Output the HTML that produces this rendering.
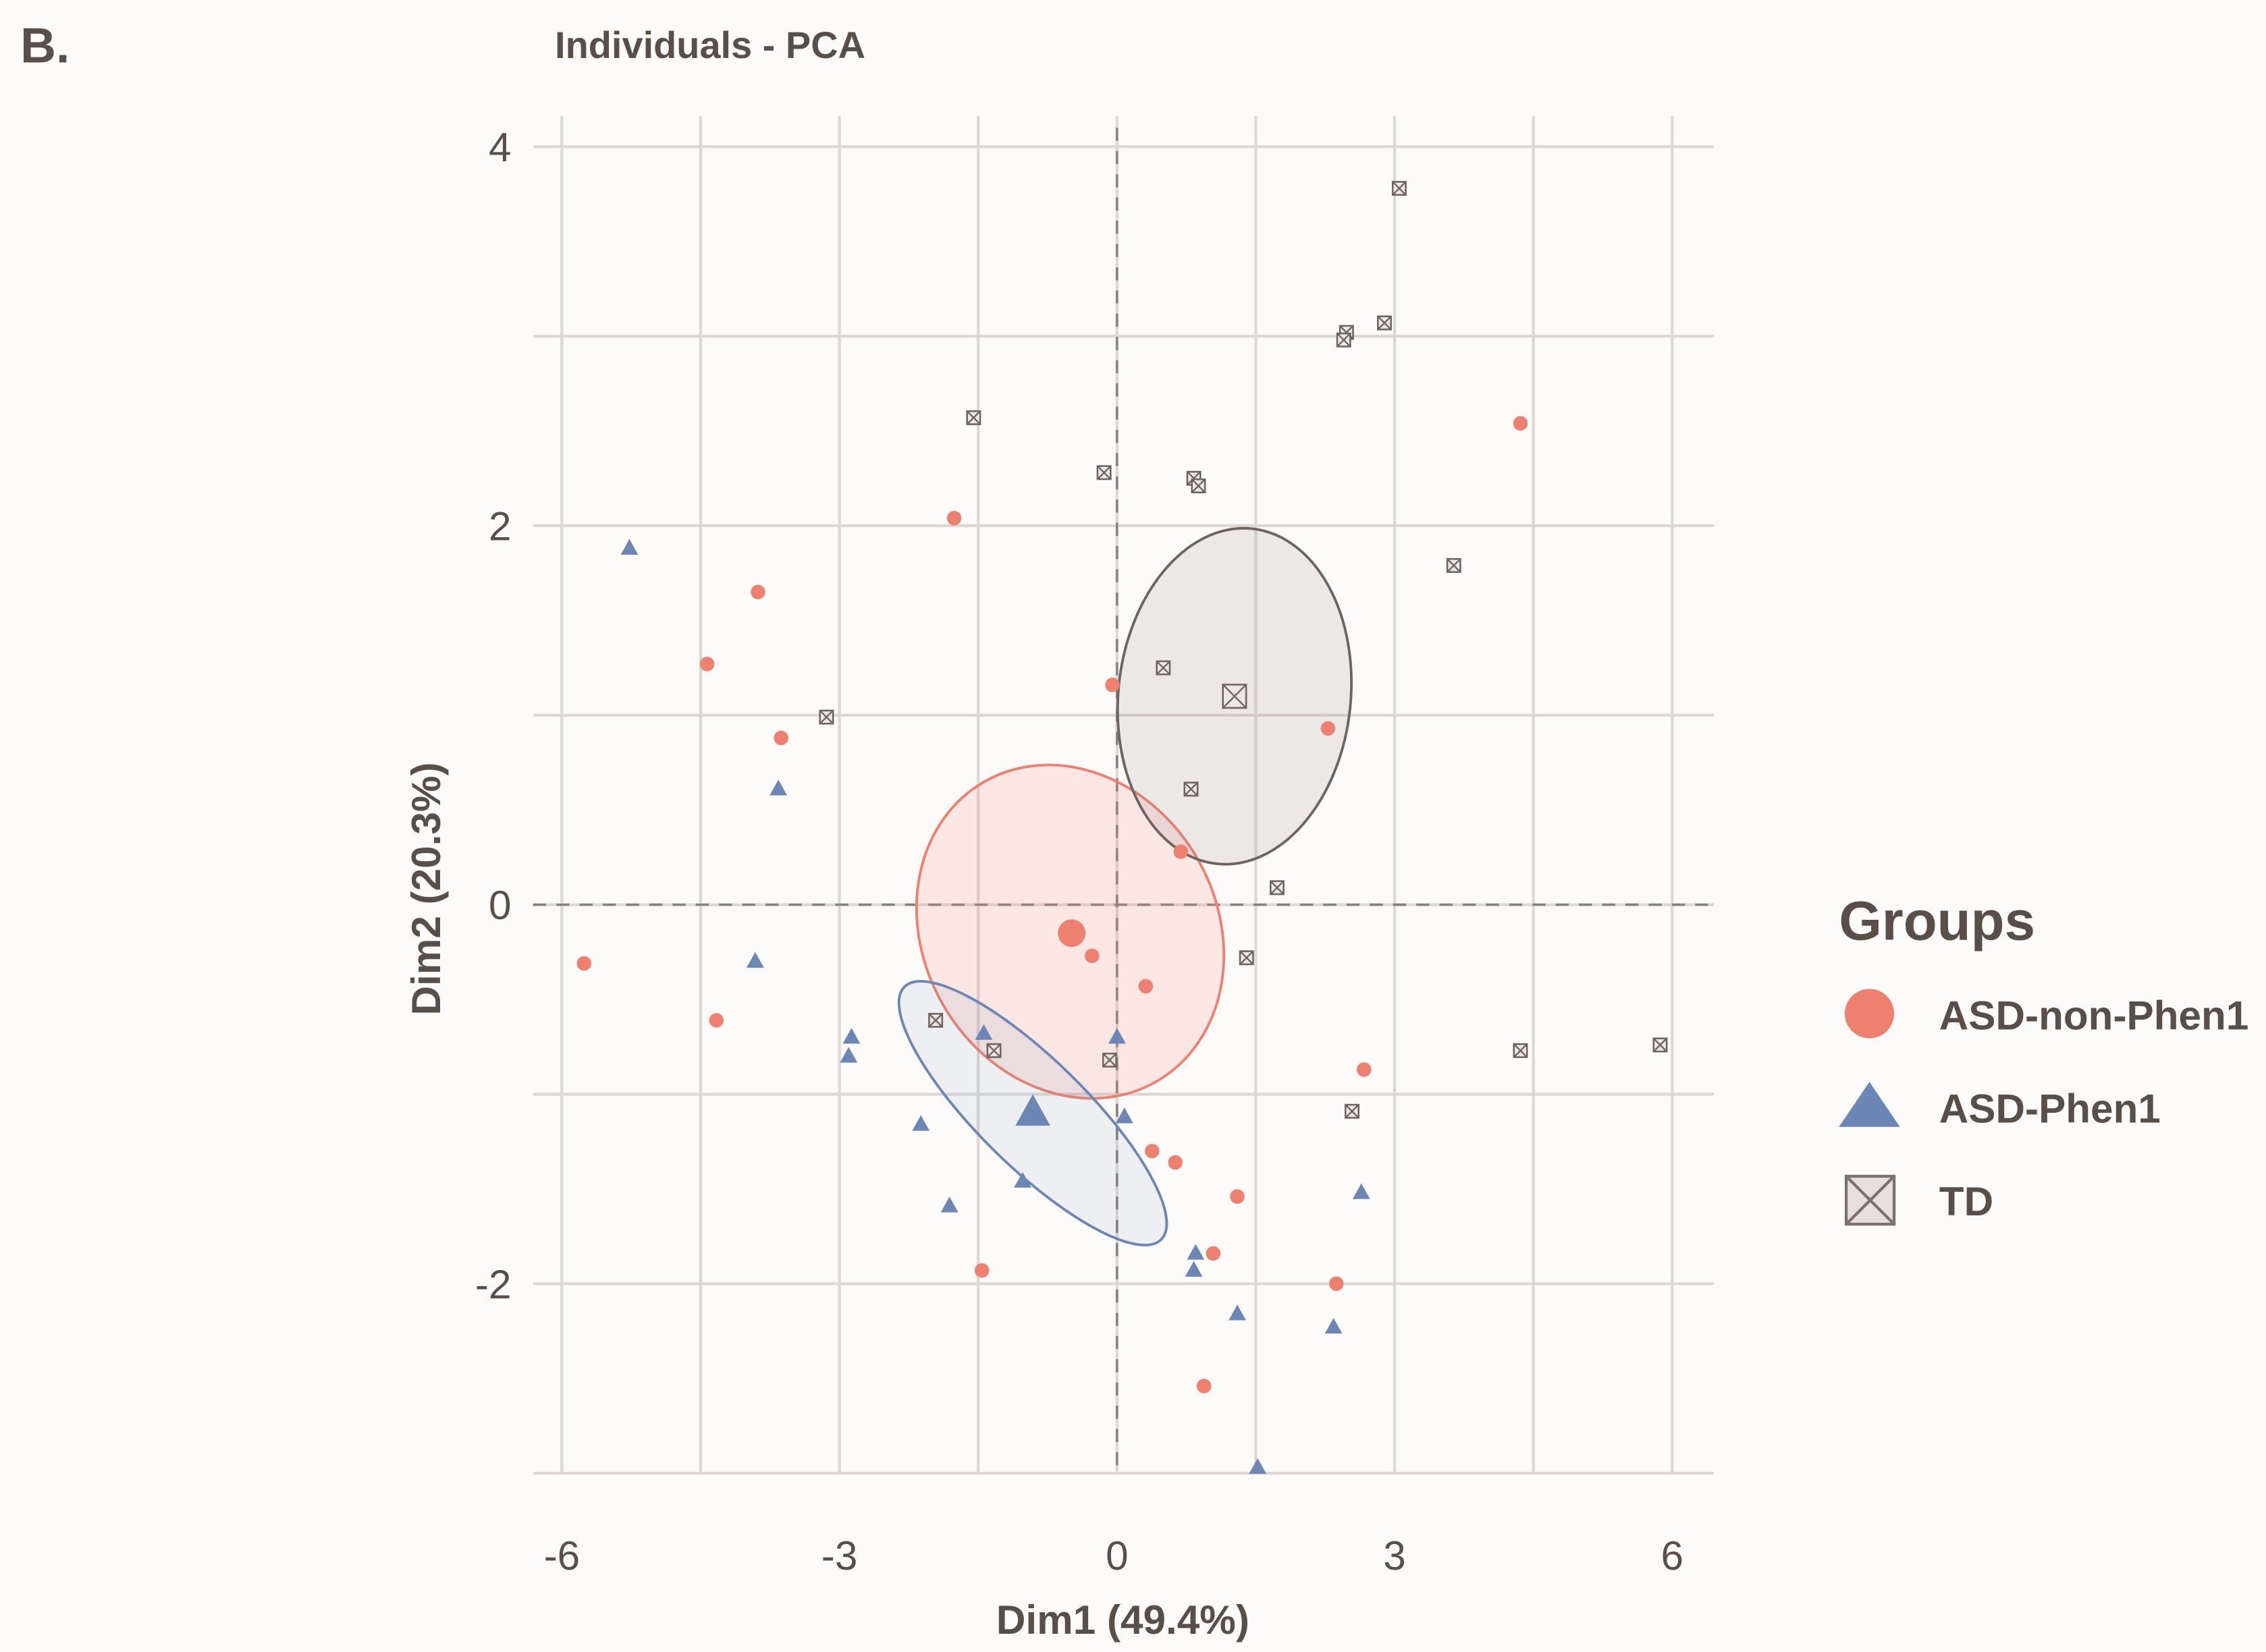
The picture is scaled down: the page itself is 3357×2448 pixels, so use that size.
<!DOCTYPE html>
<html><head><meta charset="utf-8"><style>
html,body{margin:0;padding:0;background:#fdfbfa;}
svg{display:block;font-family:"Liberation Sans",sans-serif;}
</style></head><body>
<svg id="chart" width="3357" height="2448" viewBox="0 0 1560 1137.6" xmlns="http://www.w3.org/2000/svg">
<rect x="0" y="0" width="1560" height="1138" fill="#fdfbfa"/>
<text x="14" y="43" font-size="34" font-weight="bold" fill="#5a4e48">B.</text>
<text x="382" y="40" font-size="26" font-weight="bold" fill="#5a4e48">Individuals - PCA</text>
<g id="grid"></g>
<g id="ellipses"></g>
<g id="points"></g>
<text x="773" y="1125" font-size="28" font-weight="bold" fill="#5a4e48" text-anchor="middle">Dim1 (49.4%)</text>
<text x="0" y="0" transform="translate(303,612) rotate(-90)" font-size="28" font-weight="bold" fill="#5a4e48" text-anchor="middle">Dim2 (20.3%)</text>
<g>
<text x="1266" y="647" font-size="38" font-weight="bold" fill="#5a4e48">Groups</text>
<g>
<circle cx="1287" cy="698" r="17" fill="#ee8070"/>
<text x="1335" y="709" font-size="28" font-weight="bold" fill="#5a4e48">ASD-non-Phen1</text></g>
<g>
<polygon points="1287,745 1308,776 1266,776" fill="#6c87b5"/>
<text x="1335" y="773" font-size="28" font-weight="bold" fill="#5a4e48">ASD-Phen1</text></g>
<g>
<rect x="1271" y="810" width="33" height="33" fill="#e6dfdb" stroke="#7d716c" stroke-width="2"/>
<path d="M1271,810 L1304,843 M1304,810 L1271,843" stroke="#7d716c" stroke-width="2"/>
<text x="1335" y="837" font-size="28" font-weight="bold" fill="#5a4e48">TD</text></g>
</g>
</svg>
<script>
const xTicks=[-6,-3,0,3,6];
const yTicks=[4,2,0,-2];
const redX=[-5.76,-3.88,-4.43,-3.63,-4.33,-1.76,-0.05,2.28,0.69,-0.27,0.31,4.36,2.67,0.38,0.63,1.30,1.04,2.37,-1.46,0.94];
const redY=[-0.31,1.65,1.27,0.88,-0.61,2.04,1.16,0.93,0.28,-0.27,-0.43,2.54,-0.87,-1.30,-1.36,-1.54,-1.84,-2.0,-1.93,-2.54];
const blueX=[-5.27,-3.66,-3.91,-2.87,-2.90,-2.12,-1.81,-1.44,-1.02,0,0.08,0.85,0.83,1.30,2.34,2.64,1.52];
const blueY=[1.88,0.61,-0.30,-0.70,-0.80,-1.16,-1.59,-0.68,-1.46,-0.70,-1.12,-1.84,-1.93,-2.16,-2.23,-1.52,-2.97];
const tdX=[3.05,2.48,2.45,2.89,-1.55,-0.14,0.83,0.88,3.64,0.50,-3.14,0.80,1.73,1.40,-1.96,-1.33,-0.08,2.54,4.36,5.87];
const tdY=[3.78,3.02,2.98,3.07,2.57,2.28,2.25,2.21,1.79,1.25,0.99,0.61,0.09,-0.28,-0.61,-0.77,-0.82,-1.09,-0.77,-0.74];
const centX=[-0.49,-0.91,1.27];
const centY=[-0.15,-1.10,1.10];
const NS="http://www.w3.org/2000/svg";
const sx=v=>769+v*63.7;
const sy=v=>623-v*130.5;
function mk(tag,attrs,parent){const e=document.createElementNS(NS,tag);for(const k in attrs)e.setAttribute(k,attrs[k]);parent.appendChild(e);return e;}
const grid=document.getElementById('grid');
const gc="#ddd8d5";
for(let v=-6;v<=6;v+=1.5){const l=mk('line',{x1:sx(v),x2:sx(v),y1:80,y2:1015,stroke:gc,'stroke-width':2},grid);

}
for(let v=-3;v<=4;v+=1){const l=mk('line',{x1:367,x2:1180,y1:sy(v),y2:sy(v),stroke:gc,'stroke-width':2},grid);

}
let z=mk('line',{x1:sx(0),x2:sx(0),y1:88,y2:1015,stroke:"#8a807b",'stroke-width':1.6,'stroke-dasharray':'9 7'},grid);


z=mk('line',{x1:367,x2:1180,y1:sy(0),y2:sy(0),stroke:"#8a807b",'stroke-width':1.6,'stroke-dasharray':'9 7'},grid);


xTicks.forEach(v=>{const t=mk('text',{x:sx(v),y:1081,'font-size':28,fill:'#5a4e48','text-anchor':'middle'},grid);t.textContent=v;

});
yTicks.forEach(v=>{const t=mk('text',{x:352,y:sy(v)+10,'font-size':28,fill:'#5a4e48','text-anchor':'end'},grid);t.textContent=v;

});
const eg=document.getElementById('ellipses');
let e=mk('ellipse',{cx:0,cy:0,rx:101,ry:119,fill:'#ee8070','fill-opacity':0.17,stroke:'#ee8070','stroke-width':1.8,transform:`translate(${sx(centX[0])-1},${sy(centY[0])-1}) rotate(-30)`},eg);


e=mk('ellipse',{cx:0,cy:0,rx:124,ry:37,fill:'#6c87b5','fill-opacity':0.1,stroke:'#6c87b5','stroke-width':1.8,transform:`translate(${sx(centX[1])},${sy(centY[1])}) rotate(44.5)`},eg);


e=mk('ellipse',{cx:0,cy:0,rx:80,ry:116,fill:'#8c7f7a','fill-opacity':0.15,stroke:'#6f6460','stroke-width':1.8,transform:`translate(${sx(centX[2])},${sy(centY[2])}) rotate(6)`},eg);


const pg=document.getElementById('points');
function circ(x,y,r,name){const c=mk('circle',{cx:sx(x),cy:sy(y),r:r,fill:'#ee8070'},pg);

}
function tri(x,y,s,name){const cx=sx(x),cy=sy(y),h=s*0.9;const p=mk('polygon',{points:`${cx},${cy-h*0.6} ${cx+s/2},${cy+h*0.4} ${cx-s/2},${cy+h*0.4}`,fill:'#6c87b5'},pg);

}
function sq(x,y,s,name){const cx=sx(x),cy=sy(y),h=s/2;const g=mk('g',{},pg);


mk('rect',{x:cx-h,y:cy-h,width:s,height:s,fill:'#eee8e5',stroke:'#6f6460','stroke-width':1.2},g);
mk('path',{d:`M${cx-h},${cy-h}L${cx+h},${cy+h}M${cx+h},${cy-h}L${cx-h},${cy+h}`,stroke:'#6f6460','stroke-width':1.1},g);}
redX.forEach((x,i)=>circ(x,redY[i],5,'asd-non-phen1-point'));
blueX.forEach((x,i)=>tri(x,blueY[i],12,'asd-phen1-point'));
tdX.forEach((x,i)=>sq(x,tdY[i],9,'td-point'));
circ(centX[0],centY[0],9.5,'asd-non-phen1-centroid');
tri(centX[1],centY[1],24,'asd-phen1-centroid');
sq(centX[2],centY[2],16,'td-centroid');
</script>
</body></html>
